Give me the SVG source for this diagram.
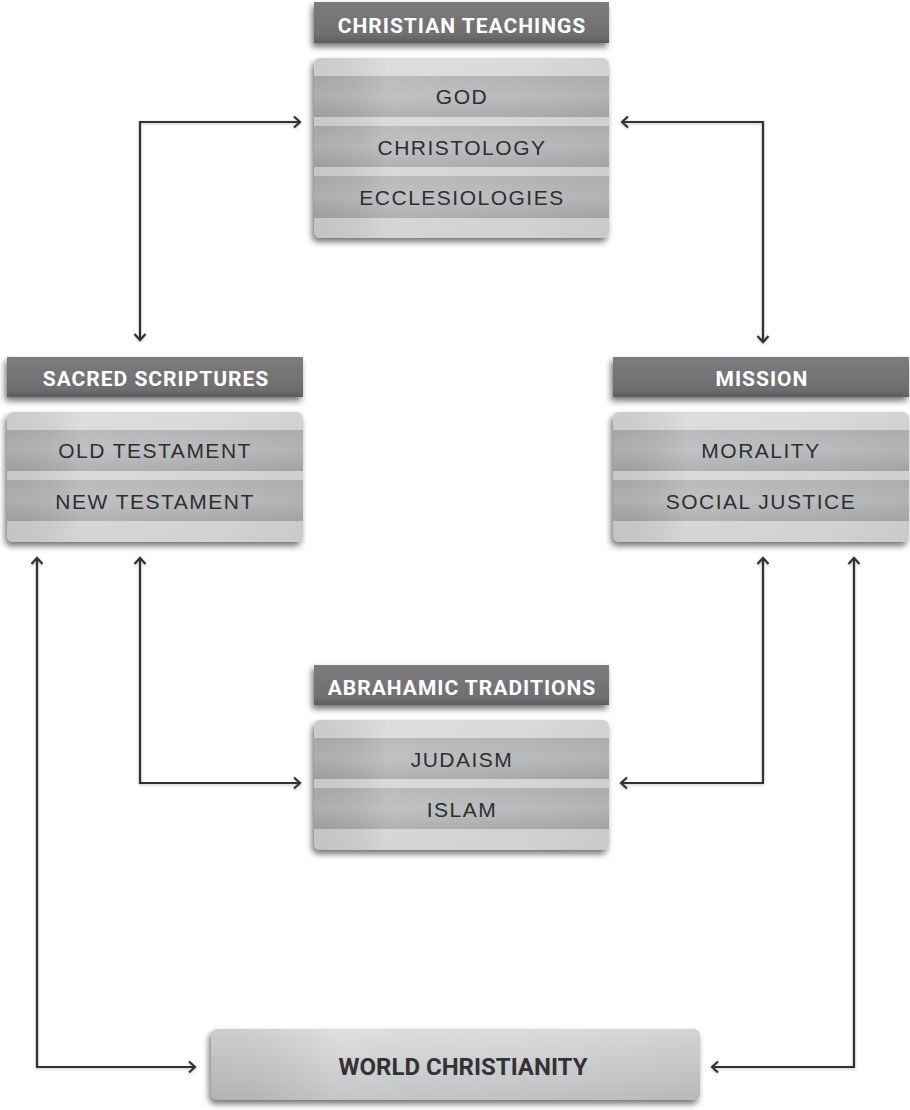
<svg xmlns="http://www.w3.org/2000/svg" width="910" height="1110" viewBox="0 0 910 1110">
<defs>
<linearGradient id="hdr" x1="0" y1="0" x2="0" y2="1">
<stop offset="0" stop-color="#7c7c7e"/>
<stop offset="0.8" stop-color="#6f6f71"/>
<stop offset="1" stop-color="#5c5c5e"/>
</linearGradient>
<linearGradient id="light" x1="0" y1="0" x2="0" y2="1">
<stop offset="0" stop-color="#d8d9db"/>
<stop offset="1" stop-color="#cfd0d2"/>
</linearGradient>
<linearGradient id="band" x1="0" y1="0" x2="0" y2="1">
<stop offset="0" stop-color="#b0b1b3"/>
<stop offset="0.5" stop-color="#b8b9bb"/>
<stop offset="1" stop-color="#a6a7a9"/>
</linearGradient>
<linearGradient id="sheen" x1="0" y1="0" x2="1" y2="0">
<stop offset="0" stop-color="#000" stop-opacity="0.06"/>
<stop offset="0.25" stop-color="#fff" stop-opacity="0.12"/>
<stop offset="0.7" stop-color="#fff" stop-opacity="0.03"/>
<stop offset="1" stop-color="#000" stop-opacity="0.03"/>
</linearGradient>
<linearGradient id="wc" x1="0" y1="0" x2="0" y2="1">
<stop offset="0" stop-color="#d9dadc"/>
<stop offset="1" stop-color="#bdbec0"/>
</linearGradient>
<filter id="sh" x="-10%" y="-20%" width="120%" height="150%">
<feDropShadow dx="-2" dy="4" stdDeviation="3" flood-color="#000" flood-opacity="0.55"/>
</filter>
<filter id="lsh" x="-10%" y="-10%" width="120%" height="120%">
<feDropShadow dx="0" dy="1" stdDeviation="1.5" flood-color="#000" flood-opacity="0.25"/>
</filter>
<marker id="chev" markerUnits="userSpaceOnUse" markerWidth="14" markerHeight="14" refX="8" refY="7" orient="auto-start-reverse">
<path d="M2,1.5 L8,7 L2,12.5" fill="none" stroke="#333" stroke-width="2.2" stroke-linejoin="miter"/>
</marker>
<style>
.hdr{fill:url(#hdr);filter:url(#sh)}
.body{fill:url(#light);filter:url(#sh)}
.band{fill:url(#band)}
.sheen{fill:url(#sheen)}
.ht{font-family:"Roboto","DejaVu Sans",sans-serif;font-weight:bold;font-size:21px;fill:#fff;text-anchor:middle;letter-spacing:1px}
.it{font-family:"Liberation Sans","Arial",sans-serif;font-size:21px;fill:#2e2e2e;text-anchor:middle;letter-spacing:1.5px}
.wt{font-family:"Roboto","DejaVu Sans",sans-serif;font-weight:bold;font-size:24px;fill:#333;text-anchor:middle}
.conn{fill:none;stroke:#333;stroke-width:2.2;marker-start:url(#chev);marker-end:url(#chev);filter:url(#lsh)}
</style>
</defs>
<rect width="910" height="1110" fill="#fff"/>

<g id="connectors">
<path class="conn" d="M140,340 V122 H300"/>
<path class="conn" d="M622,122 H763 V342"/>
<path class="conn" d="M37,558 V1067 H195"/>
<path class="conn" d="M140,558 V783 H300"/>
<path class="conn" d="M763,558 V783 H621"/>
<path class="conn" d="M854,558 V1067 H712"/>
<path class="conn" d="M455,865 V1017"/>
</g>

<g id="christian-teachings">
<rect class="hdr" x="314" y="2" width="295" height="41"/>
<text class="ht" x="462" y="33">CHRISTIAN TEACHINGS</text>
<rect class="body" x="314" y="58" width="295" height="180" rx="6"/>
<rect class="band" x="314" y="76" width="295" height="41"/>
<rect class="band" x="314" y="126" width="295" height="41"/>
<rect class="band" x="314" y="176" width="295" height="42"/>
<rect class="sheen" x="314" y="58" width="295" height="180" rx="6"/>
<text class="it" x="462" y="104">GOD</text>
<text class="it" x="462" y="155">CHRISTOLOGY</text>
<text class="it" x="462" y="205">ECCLESIOLOGIES</text>
</g>

<g id="sacred-scriptures">
<rect class="hdr" x="7" y="357" width="296" height="40"/>
<text class="ht" x="156" y="386">SACRED SCRIPTURES</text>
<rect class="body" x="7" y="412" width="296" height="130" rx="6"/>
<rect class="band" x="7" y="430" width="296" height="41"/>
<rect class="band" x="7" y="480" width="296" height="41"/>
<rect class="sheen" x="7" y="412" width="296" height="130" rx="6"/>
<text class="it" x="155" y="458">OLD TESTAMENT</text>
<text class="it" x="155" y="509">NEW TESTAMENT</text>
</g>

<g id="mission">
<rect class="hdr" x="613" y="357" width="296" height="40"/>
<text class="ht" x="762" y="386">MISSION</text>
<rect class="body" x="613" y="412" width="296" height="130" rx="6"/>
<rect class="band" x="613" y="430" width="296" height="41"/>
<rect class="band" x="613" y="480" width="296" height="41"/>
<rect class="sheen" x="613" y="412" width="296" height="130" rx="6"/>
<text class="it" x="761" y="458">MORALITY</text>
<text class="it" x="761" y="509">SOCIAL JUSTICE</text>
</g>

<g id="abrahamic-traditions">
<rect class="hdr" x="314" y="665" width="295" height="40"/>
<text class="ht" x="462" y="695">ABRAHAMIC TRADITIONS</text>
<rect class="body" x="314" y="720" width="295" height="130" rx="6"/>
<rect class="band" x="314" y="738" width="295" height="41"/>
<rect class="band" x="314" y="788" width="295" height="41"/>
<rect class="sheen" x="314" y="720" width="295" height="130" rx="6"/>
<text class="it" x="462" y="767">JUDAISM</text>
<text class="it" x="462" y="817">ISLAM</text>
</g>

<g id="world-christianity">
<rect x="211" y="1029" width="489" height="71" rx="6" fill="url(#wc)" filter="url(#sh)"/>
<rect class="sheen" x="211" y="1029" width="489" height="71" rx="6"/>
<text class="wt" x="463" y="1075">WORLD CHRISTIANITY</text>
</g>
</svg>
